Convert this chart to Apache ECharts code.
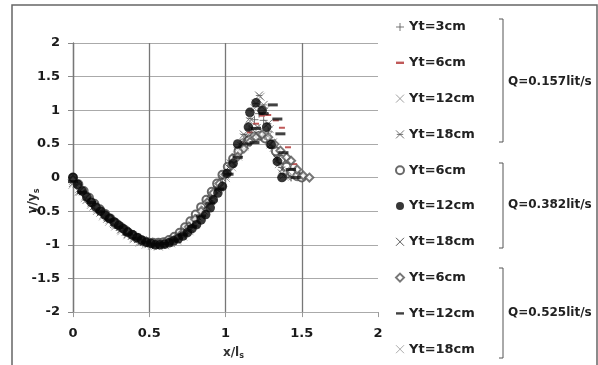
<!DOCTYPE html>
<html><head><meta charset="utf-8">
<script src="https://cdn.jsdelivr.net/npm/echarts@6/dist/echarts.min.js"></script>
<style>html,body{margin:0;padding:0;background:#fff}#c{width:598px;height:365px}</style>
</head><body><div id="c"></div>
<script>
// ---- data (x/ls, y/ys) ----
const legendNames = ['Yt=3cm#1','Yt=6cm#1','Yt=12cm#1','Yt=18cm#1','Yt=6cm#2','Yt=12cm#2','Yt=18cm#2','Yt=6cm#3','Yt=12cm#3','Yt=18cm#3'];
const groupLabels = ['Q=0.157lit/s','Q=0.382lit/s','Q=0.525lit/s'];

const q157_yt3 = [[0,0],[0.035,-0.12],[0.07,-0.24],[0.105,-0.34],[0.14,-0.43],[0.175,-0.5],[0.21,-0.57],[0.245,-0.64],[0.28,-0.7],[0.315,-0.76],[0.35,-0.82],[0.385,-0.87],[0.42,-0.91],[0.455,-0.95],[0.49,-0.98],[0.525,-0.99],[0.56,-0.99],[0.595,-0.98],[0.63,-0.95],[0.665,-0.91],[0.7,-0.86],[0.735,-0.79],[0.77,-0.7],[0.805,-0.6],[0.84,-0.49],[0.875,-0.38],[0.91,-0.26],[0.945,-0.13],[0.98,-0.01],[1.015,0.12],[1.05,0.27],[1.085,0.42],[1.12,0.57],[1.155,0.72],[1.19,0.86],[1.22,0.95],[1.25,0.85],[1.28,0.68],[1.31,0.5],[1.34,0.32],[1.37,0.15],[1.4,0.04],[1.43,0]];
const q157_yt6 = [[0,-0.02],[0.04,-0.15],[0.08,-0.27],[0.12,-0.37],[0.16,-0.46],[0.2,-0.54],[0.24,-0.62],[0.28,-0.69],[0.32,-0.76],[0.36,-0.82],[0.4,-0.88],[0.44,-0.93],[0.48,-0.96],[0.52,-0.98],[0.56,-0.99],[0.6,-0.97],[0.64,-0.94],[0.68,-0.89],[0.72,-0.82],[0.76,-0.74],[0.8,-0.64],[0.84,-0.52],[0.88,-0.39],[0.92,-0.25],[0.96,-0.11],[1.0,0.04],[1.04,0.2],[1.08,0.36],[1.12,0.52],[1.16,0.67],[1.2,0.8],[1.24,0.92],[1.28,0.93],[1.33,0.85],[1.37,0.74],[1.41,0.45],[1.45,0.2],[1.49,0.02]];
const q157_yt12 = [[0,-0.05],[0.04,-0.17],[0.08,-0.28],[0.12,-0.38],[0.16,-0.47],[0.2,-0.55],[0.24,-0.63],[0.28,-0.7],[0.32,-0.77],[0.36,-0.83],[0.4,-0.89],[0.44,-0.94],[0.48,-0.97],[0.52,-1.0],[0.56,-1.01],[0.6,-1.0],[0.64,-0.97],[0.68,-0.92],[0.72,-0.85],[0.76,-0.77],[0.8,-0.67],[0.84,-0.55],[0.88,-0.42],[0.92,-0.28],[0.96,-0.13],[1.0,0.03],[1.04,0.2],[1.08,0.39],[1.12,0.6],[1.16,0.84],[1.19,1.03],[1.23,1.2],[1.26,1.0],[1.29,0.72],[1.32,0.45],[1.35,0.2],[1.38,0.03]];
const q157_yt18 = [[0,-0.08],[0.045,-0.21],[0.09,-0.33],[0.135,-0.43],[0.18,-0.52],[0.225,-0.61],[0.27,-0.69],[0.315,-0.77],[0.36,-0.84],[0.405,-0.9],[0.45,-0.95],[0.495,-0.99],[0.54,-1.01],[0.585,-1.0],[0.63,-0.97],[0.675,-0.92],[0.72,-0.85],[0.765,-0.75],[0.81,-0.63],[0.855,-0.49],[0.9,-0.34],[0.945,-0.17],[0.99,0.02],[1.035,0.21],[1.08,0.42],[1.12,0.64],[1.16,0.88],[1.2,1.1],[1.22,1.22],[1.25,1.08],[1.28,0.8],[1.31,0.52],[1.34,0.27],[1.37,0.06]];
const q382_yt6 = [[0,0],[0.035,-0.1],[0.07,-0.2],[0.105,-0.3],[0.14,-0.39],[0.175,-0.47],[0.21,-0.54],[0.245,-0.61],[0.28,-0.68],[0.315,-0.74],[0.35,-0.8],[0.385,-0.85],[0.42,-0.9],[0.455,-0.94],[0.49,-0.96],[0.525,-0.97],[0.56,-0.97],[0.595,-0.96],[0.63,-0.93],[0.665,-0.88],[0.7,-0.82],[0.735,-0.74],[0.77,-0.65],[0.805,-0.55],[0.84,-0.44],[0.875,-0.33],[0.91,-0.21],[0.945,-0.09],[0.98,0.04],[1.015,0.16],[1.05,0.28],[1.085,0.39],[1.12,0.48],[1.155,0.56],[1.19,0.61],[1.225,0.62],[1.26,0.58],[1.295,0.5],[1.33,0.39],[1.365,0.27],[1.4,0.16],[1.435,0.07],[1.47,0.02],[1.5,0]];
const q382_yt12 = [[0,0],[0.03,-0.1],[0.06,-0.2],[0.09,-0.29],[0.12,-0.37],[0.15,-0.44],[0.18,-0.5],[0.21,-0.56],[0.24,-0.61],[0.27,-0.66],[0.3,-0.71],[0.33,-0.76],[0.36,-0.81],[0.39,-0.85],[0.42,-0.89],[0.45,-0.93],[0.48,-0.96],[0.51,-0.98],[0.54,-1.0],[0.57,-1.0],[0.6,-0.99],[0.63,-0.97],[0.66,-0.94],[0.69,-0.91],[0.72,-0.87],[0.75,-0.82],[0.78,-0.76],[0.81,-0.7],[0.84,-0.63],[0.87,-0.55],[0.9,-0.45],[0.92,-0.33],[0.95,-0.23],[0.98,-0.13],[1.01,0.06],[1.05,0.21],[1.08,0.5],[1.15,0.75],[1.16,0.97],[1.2,1.11],[1.24,1.0],[1.27,0.75],[1.3,0.49],[1.34,0.24],[1.37,0]];
const q382_yt18 = [[0.02,-0.1],[0.06,-0.22],[0.1,-0.33],[0.14,-0.43],[0.18,-0.52],[0.22,-0.6],[0.26,-0.68],[0.3,-0.75],[0.34,-0.82],[0.38,-0.88],[0.42,-0.93],[0.46,-0.97],[0.5,-0.99],[0.54,-1.0],[0.58,-1.0],[0.62,-0.97],[0.66,-0.93],[0.7,-0.87],[0.74,-0.79],[0.78,-0.7],[0.82,-0.59],[0.86,-0.46],[0.9,-0.32],[0.94,-0.17],[0.98,-0.01],[1.02,0.15],[1.06,0.32],[1.1,0.48],[1.14,0.61],[1.18,0.71],[1.21,0.75],[1.25,0.65],[1.29,0.48],[1.33,0.3],[1.37,0.12],[1.41,0]];
const q525_yt6 = [[0,-0.03],[0.04,-0.14],[0.08,-0.25],[0.12,-0.35],[0.16,-0.44],[0.2,-0.52],[0.24,-0.6],[0.28,-0.67],[0.32,-0.74],[0.36,-0.8],[0.4,-0.86],[0.44,-0.91],[0.48,-0.95],[0.52,-0.97],[0.56,-0.98],[0.6,-0.97],[0.64,-0.94],[0.68,-0.89],[0.72,-0.82],[0.76,-0.73],[0.8,-0.62],[0.84,-0.5],[0.88,-0.37],[0.92,-0.23],[0.96,-0.09],[1.0,0.05],[1.04,0.18],[1.08,0.31],[1.12,0.43],[1.16,0.53],[1.2,0.6],[1.24,0.64],[1.28,0.6],[1.32,0.5],[1.36,0.4],[1.4,0.3],[1.43,0.25],[1.47,0.12],[1.51,0.03],[1.55,0]];
const q525_yt12 = [[0,-0.06],[0.06,-0.22],[0.12,-0.37],[0.18,-0.51],[0.24,-0.63],[0.3,-0.74],[0.36,-0.84],[0.42,-0.91],[0.48,-0.96],[0.54,-0.99],[0.6,-0.98],[0.66,-0.93],[0.72,-0.85],[0.78,-0.73],[0.84,-0.57],[0.9,-0.38],[0.96,-0.17],[1.02,0.05],[1.08,0.3],[1.14,0.5],[1.19,0.52],[1.2,0.73],[1.25,0.95],[1.31,1.08],[1.34,0.87],[1.36,0.65],[1.38,0.37],[1.43,0.12],[1.46,0]];
const q525_yt18 = [[0,-0.1],[0.04,-0.2],[0.08,-0.3],[0.12,-0.4],[0.16,-0.49],[0.2,-0.57],[0.24,-0.65],[0.28,-0.72],[0.32,-0.79],[0.36,-0.85],[0.4,-0.91],[0.44,-0.96],[0.48,-0.99],[0.52,-1.01],[0.56,-1.02],[0.6,-1.0],[0.64,-0.97],[0.68,-0.93],[0.72,-0.87],[0.76,-0.79],[0.8,-0.69],[0.84,-0.57],[0.88,-0.44],[0.92,-0.3],[0.96,-0.15],[1.0,0],[1.04,0.16],[1.08,0.32],[1.12,0.47],[1.16,0.6],[1.2,0.7],[1.24,0.72],[1.28,0.62],[1.32,0.45],[1.36,0.28],[1.4,0.12],[1.44,0.02]];

const seriesData = [q157_yt3,q157_yt6,q157_yt12,q157_yt18,q382_yt6,q382_yt12,q382_yt18,q525_yt6,q525_yt12,q525_yt18];

// ---- styles ----
const PLUS = 'path://M5,0L5,10M0,5L10,5';
const CROSS = 'path://M0,0L10,10M10,0L0,10';
const STAR = 'path://M0,0L10,10M10,0L0,10M1,5L9,5';
const DASH = 'path://M0,0H10V3H0Z';
const styles = [
  {symbol:PLUS, size:8, item:{color:'transparent', borderColor:'#555', borderWidth:1}},
  {symbol:DASH, size:[6,2], item:{color:'#b03030'}},
  {symbol:CROSS, size:8, item:{color:'transparent', borderColor:'#888', borderWidth:1}},
  {symbol:STAR, size:8, item:{color:'transparent', borderColor:'#555', borderWidth:1}},
  {symbol:'emptyCircle', size:8, item:{color:'#444', borderWidth:1}},
  {symbol:'circle', size:9.5, item:{color:'#050505'}, z:5},
  {symbol:CROSS, size:6, item:{color:'transparent', borderColor:'#333', borderWidth:1}},
  {symbol:'emptyDiamond', size:8, item:{color:'#555', borderWidth:1}},
  {symbol:DASH, size:[10,3], item:{color:'#111'}, z:4},
  {symbol:CROSS, size:9, item:{color:'transparent', borderColor:'#999', borderWidth:1}}
];

const FONT = 'DejaVu Sans';
const series = seriesData.map((d,i)=>({
  name: legendNames[i], type:'scatter', data:d,
  symbol: styles[i].symbol, symbolSize: styles[i].size, symbolKeepAspect:false,
  itemStyle: styles[i].item, z: styles[i].z || 2, animation:false
}));

const chart = echarts.init(document.getElementById('c'), null, {renderer:'canvas'});
const bracket = (y1,y2)=>({type:'polyline', shape:{points:[[499,y1],[503,y1],[503,y2],[499,y2]]}, style:{stroke:'#555', lineWidth:1, fill:null}});
const qText = (t,y)=>({type:'text', x:508, y:y, style:{text:t, font:'bold 12px "DejaVu Sans"', fill:'#222', verticalAlign:'middle'}});

chart.setOption({
  animation:false,
  backgroundColor:'#fff',
  grid:{left:73, right:220, top:43, bottom:50, containLabel:false},
  xAxis:{type:'value', min:0, max:2, interval:0.5,
    name:'{a|x/l}{s|s}', nameLocation:'middle', nameGap:24,
    nameTextStyle:{padding:[0,0,0,16], rich:{a:{fontFamily:FONT, fontSize:12, fontWeight:'bold', color:'#333', lineHeight:14}, s:{fontFamily:FONT, fontSize:8, fontWeight:'bold', color:'#333', lineHeight:14, padding:[7,0,0,0]}}},
    axisLine:{onZero:false, lineStyle:{color:'#aaa', width:1}},
    axisTick:{show:true, length:5, lineStyle:{color:'#999'}},
    axisLabel:{margin:15, fontFamily:FONT, fontWeight:'bold', fontSize:13, color:'#1a1a1a'},
    splitLine:{show:true, lineStyle:{color:['#777','#777','#777','#777','transparent'], width:1.3}}
  },
  yAxis:{type:'value', min:-2, max:2, interval:0.5,
    axisLine:{show:true, onZero:false, lineStyle:{color:'#777', width:1.3}},
    axisTick:{show:true, length:5, lineStyle:{color:'#888'}},
    axisLabel:{margin:13, fontFamily:FONT, fontWeight:'bold', fontSize:13, color:'#1a1a1a'},
    splitLine:{show:true, lineStyle:{color:'#aaa', width:1}}
  },
  legend:{orient:'vertical', left:395, top:19, padding:0, itemWidth:8, itemHeight:8, itemGap:19.8,
    data:legendNames, formatter:n=>n.split('#')[0],
    textStyle:{fontFamily:FONT, fontWeight:'bold', fontSize:13, color:'#222', lineHeight:16},
    itemStyle:{borderWidth:1}
  },
  graphic:[
    {type:'rect', shape:{x:12, y:5, width:585, height:420}, style:{stroke:'#666', lineWidth:1.5, fill:null}, silent:true},
    bracket(19,142), bracket(163,248), bracket(268,358),
    qText(groupLabels[0],82), qText(groupLabels[1],205), qText(groupLabels[2],313),
    {type:'text', x:33, y:201, rotation:Math.PI/2, style:{text:'{a|y/y}{s|s}', align:'center', verticalAlign:'middle',
      rich:{a:{fontFamily:FONT, fontSize:12, fontWeight:'bold', fill:'#333', lineHeight:14}, s:{fontFamily:FONT, fontSize:8, fontWeight:'bold', fill:'#333', lineHeight:14, padding:[7,0,0,0]}}}}
  ],
  series: series
});
</script></body></html>
